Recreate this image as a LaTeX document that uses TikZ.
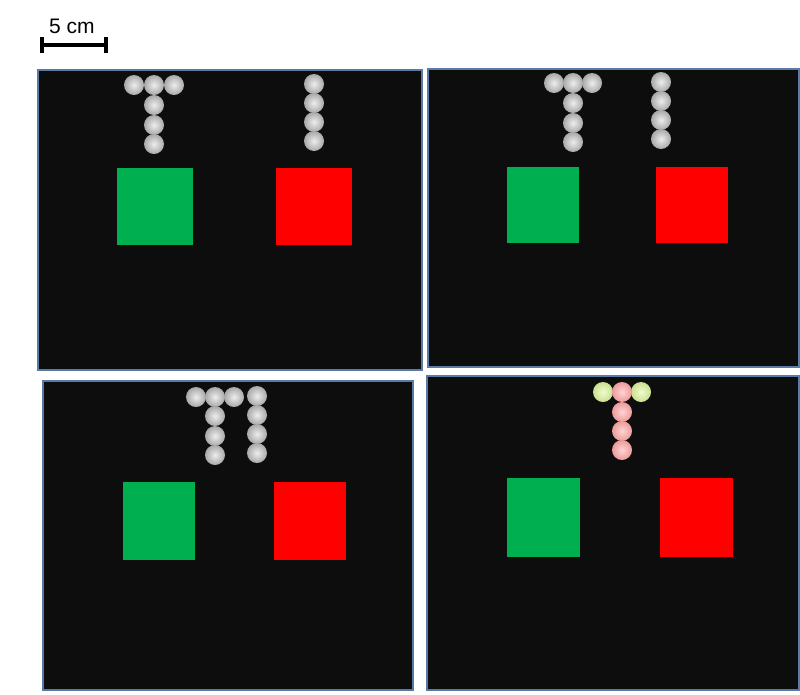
\documentclass[tikz,border=0pt]{standalone}
\usepackage{fontspec}
\setmainfont{Liberation Sans}
\usepackage{tikz}
\usetikzlibrary{calc}
\definecolor{panelbg}{HTML}{0D0D0D}
\definecolor{panelrim}{HTML}{5A7BA6}
\definecolor{cuegreen}{HTML}{00B050}
\definecolor{cuered}{HTML}{FF0000}
\definecolor{beadgray}{HTML}{A8A8A8}
\definecolor{beadgraylit}{HTML}{EDEDED}
\definecolor{beadpink}{HTML}{EE9A9A}
\definecolor{beadpinklit}{HTML}{FFD4D4}
\definecolor{beadlime}{HTML}{C9E08E}
\definecolor{beadlimelit}{HTML}{F3FAD2}

\begin{document}
\begin{tikzpicture}[x=1pt, y=-1pt,
    panel/.style={fill=panelbg, draw=panelrim, line width=1.2pt},
    bead/.style={shade, inner color=#1lit, outer color=#1},
    bead/.default=beadgray,
    bar/.style={line width=4.2pt}]
    \useasboundingbox (0,0) rectangle (800,694);

    % scale bar
    \draw[bar] (42,45) -- (106,45);
    \draw[bar] (42,37) -- (42,53);
    \draw[bar] (106,37) -- (106,53);
    \node[font=\fontsize{21}{24}\selectfont] (scale) at (72,26) {5 cm};

    % panels
    \draw[panel] (38,70) rectangle (422,370);
    \draw[panel] (428,69) rectangle (799,367);
    \draw[panel] (43,381) rectangle (413,690);
    \draw[panel] (427,376) rectangle (799,690);

    % top left
    \foreach \x in {134,154,174} \shade[bead] (\x,85) circle (10);
    \foreach \y in {105,125,144} \shade[bead] (154,\y) circle (10);
    \foreach \y in {84,103,122,141} \shade[bead] (314,\y) circle (10);
    \fill[cuegreen] (117,168) rectangle (193,245);
    \fill[cuered] (276,168) rectangle (352,245);

    % top right
    \foreach \x in {554,573,592} \shade[bead] (\x,83) circle (10);
    \foreach \y in {103,123,142} \shade[bead] (573,\y) circle (10);
    \foreach \y in {82,101,120,139} \shade[bead] (661,\y) circle (10);
    \fill[cuegreen] (507,167) rectangle (579,243);
    \fill[cuered] (656,167) rectangle (728,243);

    % bottom left
    \foreach \x in {196,215,234} \shade[bead] (\x,397) circle (10);
    \foreach \y in {416,436,455} \shade[bead] (215,\y) circle (10);
    \foreach \y in {396,415,434,453} \shade[bead] (257,\y) circle (10);
    \fill[cuegreen] (123,482) rectangle (195,560);
    \fill[cuered] (274,482) rectangle (346,560);

    % bottom right
    \foreach \x in {603,641} \shade[bead=beadlime] (\x,392) circle (10);
    \foreach \y in {392,412,431,450} \shade[bead=beadpink] (622,\y) circle (10);
    \fill[cuegreen] (507,478) rectangle (580,557);
    \fill[cuered] (660,478) rectangle (733,557);
\end{tikzpicture}
\end{document}
